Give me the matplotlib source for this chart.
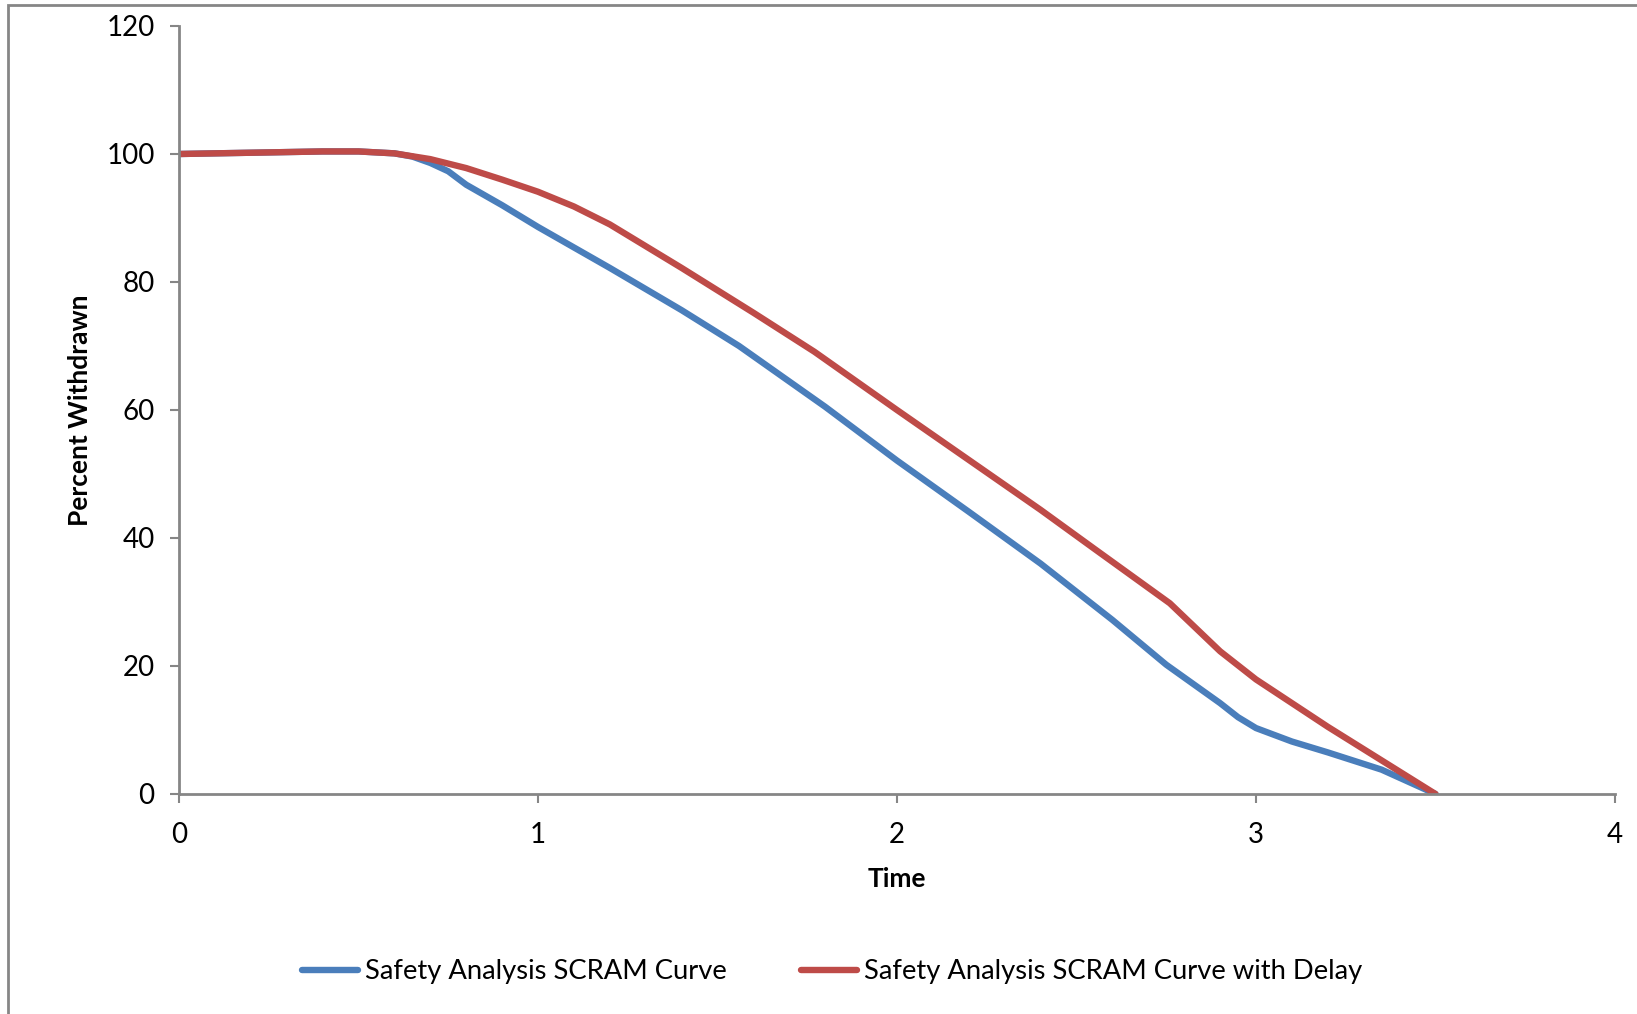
import matplotlib
matplotlib.use("Agg")
import matplotlib.pyplot as plt
from matplotlib.patches import Rectangle

# time axis values and percent withdrawn for both SCRAM curves
time_base = [0, 0.2, 0.4, 0.5, 0.6, 0.65, 0.7, 0.75, 0.8, 0.9, 1.0, 1.2, 1.4, 1.56,
             1.8, 2.0, 2.2, 2.4, 2.6, 2.75, 2.9, 2.95, 3.0, 3.1, 3.2, 3.35, 3.5]
pct_base = [100, 100.2, 100.4, 100.4, 100.1, 99.6, 98.6, 97.3, 95.2, 92.0, 88.6, 82.2,
            75.6, 70.0, 60.5, 52.1, 44.1, 36.0, 27.2, 20.2, 14.2, 12.0, 10.3, 8.2, 6.5, 3.8, 0]

time_delay = [0, 0.2, 0.4, 0.5, 0.6, 0.7, 0.8, 0.9, 1.0, 1.1, 1.2, 1.3, 1.4, 1.6, 1.77,
              2.0, 2.2, 2.4, 2.55, 2.76, 2.9, 3.0, 3.1, 3.2, 3.3, 3.4, 3.5]
pct_delay = [100, 100.2, 100.4, 100.4, 100.1, 99.2, 97.8, 96.0, 94.1, 91.8, 89.0, 85.6,
             82.2, 75.2, 69.1, 60.0, 52.2, 44.4, 38.3, 29.8, 22.3, 17.9, 14.2, 10.5, 7.0, 3.5, 0]

labels = ["Safety Analysis SCRAM Curve", "Safety Analysis SCRAM Curve with Delay"]
x_ticks = [0, 1, 2, 3, 4]
y_ticks = [0, 20, 40, 60, 80, 100, 120]

grey = "#868686"
plt.rcParams['font.family'] = ['Lato', 'DejaVu Sans']

fig = plt.figure(figsize=(16.37, 10.14), dpi=100)
ax = fig.add_axes([179 / 1637, 220 / 1014, (1615 - 179) / 1637, (794 - 26) / 1014])

ax.plot(time_base, pct_base, color="#4A7EBB", lw=4.6, label=labels[0], solid_capstyle="round")
ax.plot(time_delay, pct_delay, color="#BE4B48", lw=4.6, label=labels[1], solid_capstyle="round")

ax.set_xlim(0, 4)
ax.set_ylim(0, 120)
ax.set_xticks(x_ticks)
ax.set_yticks(y_ticks)

for s in ["top", "right"]:
    ax.spines[s].set_visible(False)
for s in ["left", "bottom"]:
    ax.spines[s].set_color(grey)
    ax.spines[s].set_linewidth(2.0)
ax.tick_params(axis="both", direction="out", length=6.5, width=1.5, color=grey,
               labelsize=20, labelcolor="black")
ax.tick_params(axis="y", pad=11)
ax.tick_params(axis="x", pad=14)

ax.set_xlabel("Time", fontsize=19, fontweight="bold", labelpad=13)
ax.set_ylabel("Percent Withdrawn", fontsize=19, fontweight="bold", labelpad=10)

leg = fig.legend(loc="center", bbox_to_anchor=(832 / 1637, 1 - 972 / 1014), ncol=2,
                 frameon=False, fontsize=19.7, handlelength=2.05, handletextpad=0.25,
                 columnspacing=2.7)

# chart area border (partly cropped in the original)
fig.patches.append(Rectangle((8 / 1637, -0.2), 1.5, 1.2 - 5 / 1014, transform=fig.transFigure,
                             fill=False, edgecolor=grey, lw=2.0))

fig.savefig("out.png", dpi=100)
